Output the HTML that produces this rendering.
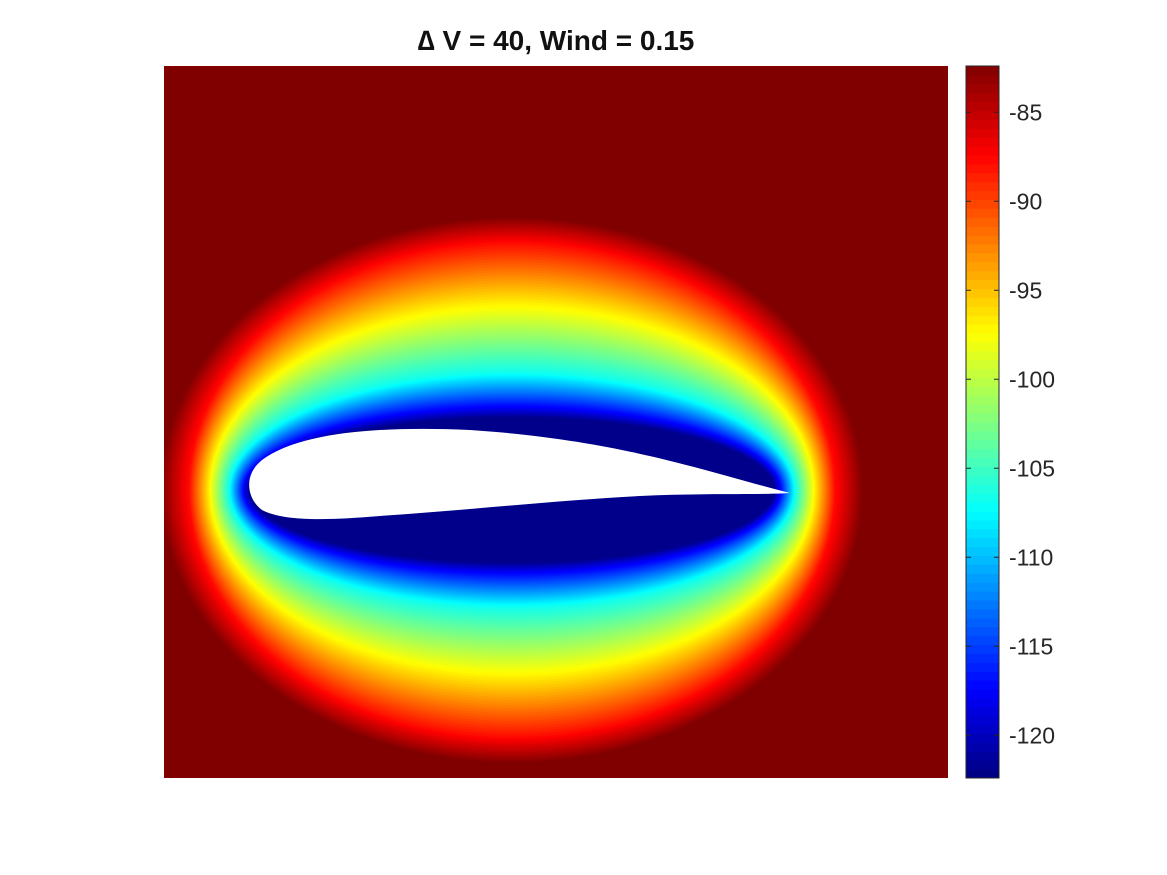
<!DOCTYPE html>
<html><head><meta charset="utf-8"><style>
body{margin:0;background:#fff;}
svg{display:block;font-family:"Liberation Sans",sans-serif;}
</style></head><body>
<svg width="1167" height="875">
<text x="556" y="50" text-anchor="middle" font-size="28" font-weight="bold" fill="#111">∆ V = 40, Wind = 0.15</text>
<defs><clipPath id="pc"><rect x="164" y="66" width="784" height="712"/></clipPath></defs>
<g id="plot" clip-path="url(#pc)"></g>
<g id="cbar"></g>
</svg>
<script>
const vMin=-122.4, vMax=-82.4;
const anchorValues=[-122.4,-118,-107,-97,-88,-82.4];
const anchorRy=[72,82,117,187,247,274];
const anchorRx=[262,268,283,303,323,352];
const cbTicks=[-85,-90,-95,-100,-105,-110,-115,-120];
const NS="http://www.w3.org/2000/svg";
function jet(t){t=Math.max(0,Math.min(1,t));
 const f=x=>Math.max(0,Math.min(1,x));
 const r=f(1.5-Math.abs(4*t-3)),g=f(1.5-Math.abs(4*t-2)),b=f(1.5-Math.abs(4*t-1));
 return `rgb(${Math.round(r*255)},${Math.round(g*255)},${Math.round(b*255)})`;}
function interp(v,ys){for(let i=0;i<anchorValues.length-1;i++){const a=anchorValues[i],b=anchorValues[i+1];if(v>=a&&v<=b){return ys[i]+(ys[i+1]-ys[i])*(v-a)/(b-a);}}return v<anchorValues[0]?ys[0]:ys[ys.length-1];}
const plot=document.getElementById('plot');
const bg=document.createElementNS(NS,'rect');
bg.setAttribute('x',164);bg.setAttribute('y',66);bg.setAttribute('width',784);bg.setAttribute('height',712);bg.setAttribute('fill',jet(1));


plot.appendChild(bg);
const cx=512,cy=490;
for(let v=vMax;v>=vMin;v-=0.4){
 const e=document.createElementNS(NS,'ellipse');
 e.setAttribute('cx',cx);e.setAttribute('cy',cy);
 e.setAttribute('rx',interp(v,anchorRx));e.setAttribute('ry',interp(v,anchorRy));
 e.setAttribute('fill',jet((v-vMin)/(vMax-vMin)));
 
 
 plot.appendChild(e);}
const af=document.createElementNS(NS,'path');
af.setAttribute('d','M790,493 C700,470 620,440 470,430 C380,426 300,432 262,460 C242,476 248,500 262,510 C285,522 330,520 380,516 C470,510 560,500 640,496 C700,493 760,495 790,493 Z');
af.setAttribute('fill','#fff');


plot.appendChild(af);
const cb=document.getElementById('cbar');
const yTop=66,yBot=778,x0=966,w=33;
const yOf=v=>yTop+(vMax-v)/(vMax-vMin)*(yBot-yTop);
for(let v=vMin;v<vMax;v+=0.5){
 const r=document.createElementNS(NS,'rect');
 r.setAttribute('x',x0);r.setAttribute('y',yOf(v+0.5));r.setAttribute('width',w);r.setAttribute('height',yOf(v)-yOf(v+0.5)+0.5);
 r.setAttribute('fill',jet((v+0.25-vMin)/(vMax-vMin)));
 
 
 cb.appendChild(r);}
const fr=document.createElementNS(NS,'rect');
fr.setAttribute('x',x0);fr.setAttribute('y',yTop);fr.setAttribute('width',w);fr.setAttribute('height',yBot-yTop);fr.setAttribute('fill','none');fr.setAttribute('stroke','#262626');fr.setAttribute('stroke-width','1');


cb.appendChild(fr);
cbTicks.forEach(t=>{const y=yOf(t);
 const p=document.createElementNS(NS,'path');
 p.setAttribute('d',`M${x0},${y}h5M${x0+w},${y}h-5`);p.setAttribute('stroke','#262626');
 
 
 cb.appendChild(p);
 const tx=document.createElementNS(NS,'text');
 tx.setAttribute('x',1009);tx.setAttribute('y',y+8);tx.setAttribute('font-size','23');tx.setAttribute('fill','#262626');
 tx.textContent=t;
 
 
 cb.appendChild(tx);});
</script>
</body></html>
